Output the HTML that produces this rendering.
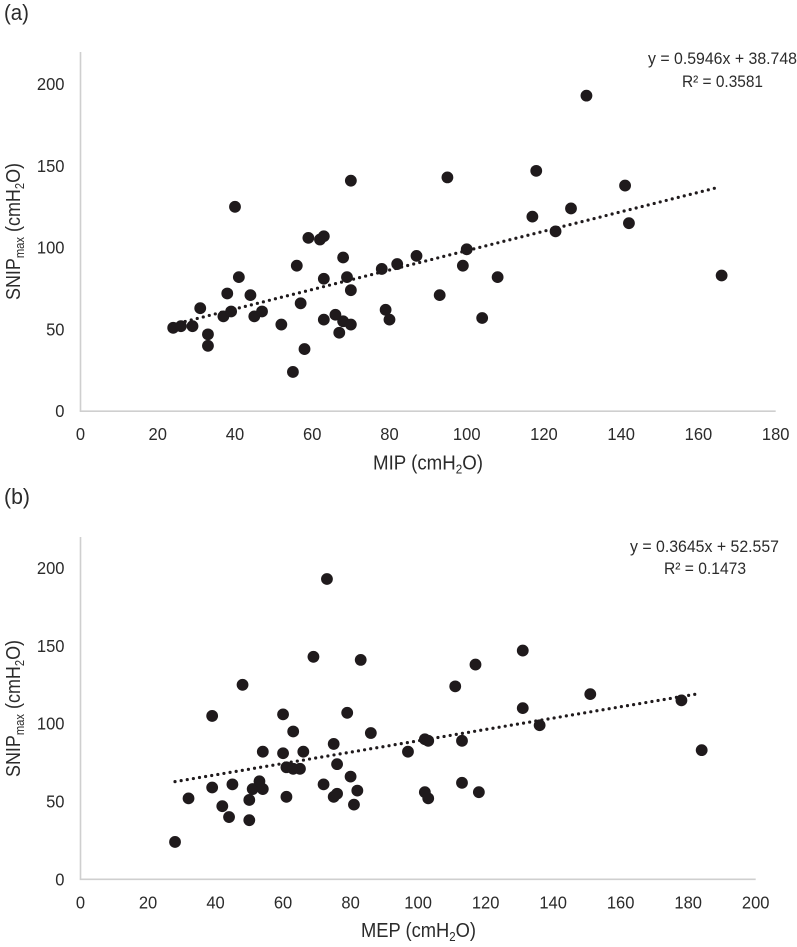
<!DOCTYPE html>
<html lang="en">
<head>
<meta charset="utf-8">
<title>SNIPmax scatter plots</title>
<style>
html,body{margin:0;padding:0;background:#fff;width:797px;height:947px;overflow:hidden}
svg{display:block}
text{font-family:"Liberation Sans",sans-serif;fill:#2b2b2b}
.tick{font-size:17.5px}
.title{font-size:20px}
.sub{font-size:12.5px}
.eq{font-size:16.5px}
.panel{font-size:22px}
</style>
</head>
<body>
<svg id="figure" xmlns="http://www.w3.org/2000/svg" width="797" height="947" viewBox="0 0 797 947">
  <rect x="0" y="0" width="797" height="947" fill="#fff"/>

  <text class="panel" x="4" y="20" textLength="25" lengthAdjust="spacingAndGlyphs">(a)</text>
  <g id="chart-a"></g>
  <text class="title" x="373" y="469.5" textLength="110" lengthAdjust="spacingAndGlyphs">MIP (cmH<tspan class="sub" dy="4">2</tspan><tspan dy="-4">O)</tspan></text>
  <text class="title" transform="translate(20,300) rotate(-90)" x="0" y="0" textLength="137" lengthAdjust="spacingAndGlyphs">SNIP<tspan class="sub" dy="4">max</tspan><tspan dy="-4"> (cmH</tspan><tspan class="sub" dy="4">2</tspan><tspan dy="-4">O)</tspan></text>
  <text class="eq" x="648" y="64" textLength="149" lengthAdjust="spacingAndGlyphs">y = 0.5946x + 38.748</text>
  <text class="eq" x="682" y="87" textLength="81" lengthAdjust="spacingAndGlyphs">R² = 0.3581</text>

  <text class="panel" x="4" y="504" textLength="26" lengthAdjust="spacingAndGlyphs">(b)</text>
  <g id="chart-b"></g>
  <text class="title" x="361" y="937" textLength="115" lengthAdjust="spacingAndGlyphs">MEP (cmH<tspan class="sub" dy="4">2</tspan><tspan dy="-4">O)</tspan></text>
  <text class="title" transform="translate(20,777) rotate(-90)" x="0" y="0" textLength="137" lengthAdjust="spacingAndGlyphs">SNIP<tspan class="sub" dy="4">max</tspan><tspan dy="-4"> (cmH</tspan><tspan class="sub" dy="4">2</tspan><tspan dy="-4">O)</tspan></text>
  <text class="eq" x="630" y="552" textLength="149" lengthAdjust="spacingAndGlyphs">y = 0.3645x + 52.557</text>
  <text class="eq" x="664" y="574" textLength="82" lengthAdjust="spacingAndGlyphs">R² = 0.1473</text>
</svg>
<script>
var mipValues = [24,26,29,31,33,33,37,38,39,40,41,44,45,47,52,55,56,57,58,59,62,63,63,63,66,67,68,68,69,70,70,70,78,79,80,82,87,93,95,99,100,104,108,117,118,123,127,131,141,142,166];
var snipValuesA = [51,52,52,63,47,40,58,72,61,125,82,71,58,61,53,24,89,66,38,106,105,107,81,56,59,48,94,55,82,74,53,141,87,62,56,90,95,71,143,89,99,57,82,119,147,110,124,193,138,115,83];
var mepValues = [28,32,39,42,44,45,50,50,51,53,54,54,60,61,61,63,63,65,66,72,75,75,76,76,80,81,82,86,39,48,60,69,73,79,83,97,102,103,102,103,113,113,118,111,117,131,131,136,151,178,184];
var snipValuesB = [24,52,59,47,40,61,51,38,58,63,58,82,81,72,53,95,71,71,82,61,87,53,74,55,66,48,57,94,105,125,106,143,193,107,141,82,90,89,56,52,89,62,56,124,138,147,110,99,119,115,83];
var xTicksA = [0,20,40,60,80,100,120,140,160,180];
var xTicksB = [0,20,40,60,80,100,120,140,160,180,200];
var yTicks = [0,50,100,150,200];
var trendA = [0.5946, 38.748];
var trendB = [0.3645, 52.557];
var trendRangeA = [24, 165];
var trendRangeB = [28, 183];

var NS = 'http://www.w3.org/2000/svg';

function make(parent, tag, attrs) {
  var el = document.createElementNS(NS, tag);
  for (var k in attrs) { el.setAttribute(k, attrs[k]); }
  parent.appendChild(el);
  return el;
}

function drawChart(cfg) {
  var g = document.getElementById(cfg.id);
  var xMax = cfg.xTicks[cfg.xTicks.length - 1];
  function sx(v) { return cfg.left + v * (cfg.right - cfg.left) / xMax; }
  function sy(v) { return cfg.base - v * cfg.yScale; }

  var yAxis = make(g, 'line', {x1: cfg.left, x2: cfg.left, y1: cfg.top, y2: cfg.base, stroke: '#cfcfcf', 'stroke-width': 1.6});
  
  
  var xAxis = make(g, 'line', {x1: cfg.left - 0.8, x2: cfg.right, y1: cfg.base, y2: cfg.base, stroke: '#cfcfcf', 'stroke-width': 1.6});
  
  

  cfg.xTicks.forEach(function (t) {
    var label = make(g, 'text', {'class': 'tick', x: sx(t), y: cfg.base + 29, 'text-anchor': 'middle', textLength: String(t).length * 9.2, lengthAdjust: 'spacingAndGlyphs'});
    label.textContent = t;
    
    
  });
  cfg.yTicks.forEach(function (t) {
    var label = make(g, 'text', {'class': 'tick', x: 64.5, y: sy(t) + 6, 'text-anchor': 'end', textLength: String(t).length * 9.2, lengthAdjust: 'spacingAndGlyphs'});
    label.textContent = t;
    
    
  });

  cfg.xs.forEach(function (x, i) {
    var dot = make(g, 'circle', {cx: sx(x), cy: sy(cfg.ys[i]), r: 5.9, fill: '#1f1a1c'});
    
    
  });

  var x0 = cfg.range[0], x1 = cfg.range[1];
  var line = make(g, 'line', {
    x1: sx(x0), y1: sy(cfg.trend[0] * x0 + cfg.trend[1]),
    x2: sx(x1), y2: sy(cfg.trend[0] * x1 + cfg.trend[1]),
    stroke: '#1f1a1c', 'stroke-width': 3.2, 'stroke-linecap': 'round', 'stroke-dasharray': '0 6.2'
  });
  
  
}

drawChart({id: 'chart-a', xs: mipValues, ys: snipValuesA, xTicks: xTicksA, yTicks: yTicks, trend: trendA, range: trendRangeA,
  left: 80.5, right: 775.7, base: 411.2, top: 52, yScale: 1.635});
drawChart({id: 'chart-b', xs: mepValues, ys: snipValuesB, xTicks: xTicksB, yTicks: yTicks, trend: trendB, range: trendRangeB,
  left: 80.5, right: 755.7, base: 879.3, top: 537, yScale: 1.556});
</script>
</body>
</html>
